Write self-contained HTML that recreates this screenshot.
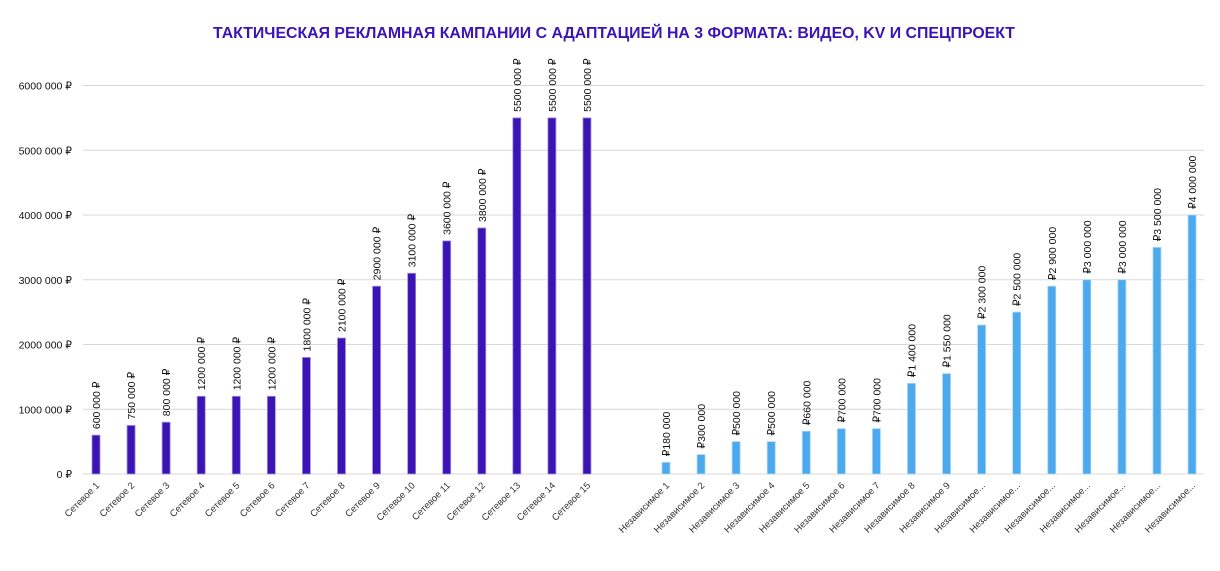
<!DOCTYPE html>
<html><head><meta charset="utf-8"><style>
body{margin:0;background:#fff;width:1220px;height:566px;overflow:hidden}
svg text{font-family:"Liberation Sans","DejaVu Sans",sans-serif}
</style></head><body>
<svg id="chart" width="1220" height="566" xmlns="http://www.w3.org/2000/svg">
<text x="614" y="38" text-anchor="middle" font-size="16" font-weight="bold" fill="#3C14B4" textLength="802" lengthAdjust="spacingAndGlyphs">ТАКТИЧЕСКАЯ РЕКЛАМНАЯ КАМПАНИИ С АДАПТАЦИЕЙ НА 3 ФОРМАТА: ВИДЕО, KV И СПЕЦПРОЕКТ</text>
<g id="grid"></g><g id="bars"></g><g id="labels"></g>
</svg>
<script>
const netCats=["Сетевое 1","Сетевое 2","Сетевое 3","Сетевое 4","Сетевое 5","Сетевое 6","Сетевое 7","Сетевое 8","Сетевое 9","Сетевое 10","Сетевое 11","Сетевое 12","Сетевое 13","Сетевое 14","Сетевое 15"];
const netValues=[600000,750000,800000,1200000,1200000,1200000,1800000,2100000,2900000,3100000,3600000,3800000,5500000,5500000,5500000];
const indCats=["Независимое 1","Независимое 2","Независимое 3","Независимое 4","Независимое 5","Независимое 6","Независимое 7","Независимое 8","Независимое 9","Независимое...","Независимое...","Независимое...","Независимое...","Независимое...","Независимое...","Независимое..."];
const indValues=[180000,300000,500000,500000,660000,700000,700000,1400000,1550000,2300000,2500000,2900000,3000000,3000000,3500000,4000000];
const yTicks=[0,1000000,2000000,3000000,4000000,5000000,6000000];

const NS="http://www.w3.org/2000/svg";
const y0=474,yTop=85.5,yMax=6000000;
function y(v){return y0-(v/yMax)*(y0-yTop);}
const step=35.07;
function x(group,i){return group===0?96+i*step:666+i*step;}
function fmtSp(v){return String(v).replace(/\B(?=(\d{3})+(?!\d))/g," ");}
function fmtRu(v){const s=String(v);return s.length>3?s.slice(0,-3)+' '+s.slice(-3):s;}
function mk(tag,attrs,parent){const e=document.createElementNS(NS,tag);for(const k in attrs)e.setAttribute(k,attrs[k]);parent.appendChild(e);return e;}
const grid=document.getElementById('grid'),bars=document.getElementById('bars'),labels=document.getElementById('labels');
yTicks.forEach(t=>{
  const l=mk('line',{x1:83,x2:1204,y1:y(t),y2:y(t),stroke:'#d9d9d9','stroke-width':1},grid);
  
  
  const tx=mk('text',{x:72,y:y(t)+4,'text-anchor':'end','font-size':10.5,fill:'#111'},grid);
  tx.textContent=fmtRu(t)+' ₽';
  
  
});
function drawGroup(g,cats,vals,color,stroke,fmt){
  vals.forEach((v,i)=>{
    const cx=x(g,i);
    const r=mk('rect',{x:cx-4,y:y(v),width:8,height:y0-y(v),fill:color,stroke:stroke,'stroke-width':0.8},bars);
    
    
    const t=mk('text',{x:0,y:0,transform:`translate(${cx+4},${y(v)-6}) rotate(-90)`,'font-size':10.5,fill:'#111'},labels);
    t.textContent=fmt(v);
    
    
    const c=mk('text',{x:0,y:0,transform:`translate(${cx+4},${y0+12}) rotate(-45)`,'text-anchor':'end','font-size':9.5,fill:'#333'},labels);
    c.textContent=cats[i];
    
    
  });
}
drawGroup(0,netCats,netValues,'#3C14B4','#9d8ee0',v=>fmtRu(v)+' ₽');
drawGroup(1,indCats,indValues,'#4DA9EE','#a9d6f7',v=>'₽'+fmtSp(v));
</script>
</body></html>
